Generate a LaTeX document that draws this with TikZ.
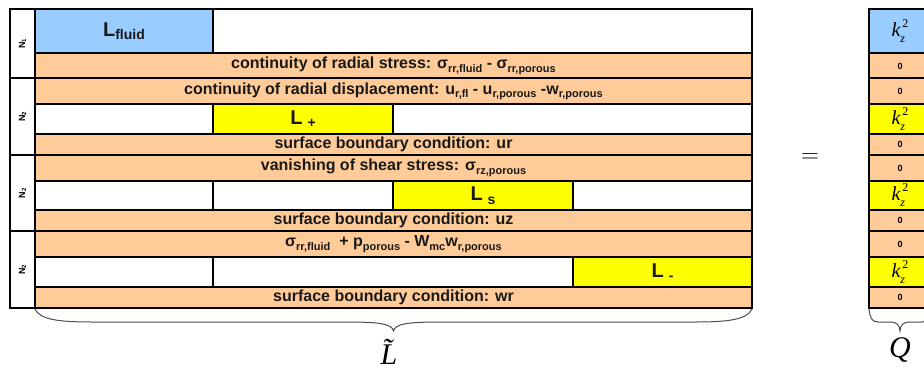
\documentclass[tikz,border=0pt]{standalone}
\usepackage{fontspec}
\setmainfont{Liberation Sans}
\newfontfamily\serifit{Liberation Serif}
\definecolor{cblue}{RGB}{153,204,255}
\definecolor{corange}{RGB}{255,204,153}
\definecolor{cyellow}{RGB}{255,255,0}
\newcommand\sbx[1]{\raisebox{-0.22em}{\fontsize{11}{11}\selectfont #1}}
\newcommand\Lsb[2]{L\hspace{#1}\raisebox{-3.5pt}{\fontsize{14}{14}\selectfont #2}}
\newcommand\kzz{{\fontsize{20}{20}\selectfont\serifit\itshape k\makebox[0pt][l]{\raisebox{-0.3em}{\fontsize{12}{12}\selectfont z}}\raisebox{0.45em}{\fontsize{12}{12}\selectfont\upshape\hspace{2pt}2}}}
\begin{document}
\begin{tikzpicture}[x=1pt,y=-1pt,
  grid/.style={draw=black,line width=1.6pt},
  outer/.style={draw=black,line width=2.6pt},
  rowtxt/.style={font=\fontsize{16}{16}\selectfont\bfseries, inner sep=0pt, text=black!90},
  ltxt/.style={font=\fontsize{20}{20}\selectfont\bfseries, inner sep=0pt, text=black!90},
  ntxt/.style={font=\fontsize{9}{9}\selectfont\bfseries, inner sep=0pt, rotate=90},
  ztxt/.style={font=\fontsize{9}{9}\selectfont\bfseries, inner sep=0pt},
  bracepath/.style={draw=black!70, line width=1pt},
  bigsym/.style={inner sep=0pt}
]
\useasboundingbox (0,0) rectangle (924,370);
\begin{scope}
\clip (0,0) rectangle (924,370);
% ---------- fills, main matrix ----------
\fill[white] (35,9) rectangle (752,53);
\fill[cblue] (35,9) rectangle (213,53);
\fill[corange] (35,53) rectangle (752,104);
\fill[white] (35,104) rectangle (752,134);
\fill[cyellow] (213,104) rectangle (393,134);
\fill[corange] (35,134) rectangle (752,181);
\fill[white] (35,181) rectangle (752,210);
\fill[cyellow] (393,181) rectangle (573,210);
\fill[corange] (35,210) rectangle (752,257);
\fill[white] (35,257) rectangle (752,287);
\fill[cyellow] (573,257) rectangle (752,287);
\fill[corange] (35,287) rectangle (752,308);
% ---------- grid lines, main matrix ----------
\foreach \yy in {53,104,134,181,210,257,287} \draw[grid] (35,\yy) -- (752,\yy);
\foreach \yy in {78,155,231} \draw[grid] (10,\yy) -- (752,\yy);
\draw[grid] (35,9) -- (35,308);
\draw[grid] (213,9) -- (213,53);
\draw[grid] (213,104) -- (213,134);
\draw[grid] (393,104) -- (393,134);
\draw[grid] (213,181) -- (213,210);
\draw[grid] (393,181) -- (393,210);
\draw[grid] (573,181) -- (573,210);
\draw[grid] (213,257) -- (213,287);
\draw[grid] (573,257) -- (573,287);
\draw[outer] (10,9) rectangle (752,308);
% ---------- Q column ----------
\fill[cblue] (869,9) rectangle (931,53);
\fill[corange] (869,53) rectangle (931,104);
\fill[cyellow] (869,104) rectangle (931,134);
\fill[corange] (869,134) rectangle (931,181);
\fill[cyellow] (869,181) rectangle (931,210);
\fill[corange] (869,210) rectangle (931,257);
\fill[cyellow] (869,257) rectangle (931,287);
\fill[corange] (869,287) rectangle (931,308);
\foreach \yy in {53,78,104,134,155,181,210,231,257,287} \draw[grid] (869,\yy) -- (931,\yy);
\draw[outer] (869,9) rectangle (931,308);
% ---------- labels N ----------
\node[ntxt] (n1) at (22.5,43.5) {N\textsubscript{1}};
\node[ntxt] (n2) at (22.5,116.5) {N\textsubscript{2}};
\node[ntxt] (n3) at (22.5,193) {N\textsubscript{2}};
\node[ntxt] (n4) at (22.5,269.5) {N\textsubscript{2}};
% ---------- L blocks ----------
\node[ltxt] (lfluid) at (124,31) {\Lsb{0pt}{fluid}};
\node[ltxt] (lplus) at (303,119) {\Lsb{5pt}{+}};
\node[ltxt] (ls) at (483,195.5) {\Lsb{5pt}{s}};
\node[ltxt] (lminus) at (662.5,272) {\Lsb{5pt}{-}};
% ---------- row texts ----------
\node[rowtxt] (r2) at (393.5,66) {continuity of radial stress: σ\sbx{rr,fluid} - σ\sbx{rr,porous}};
\node[rowtxt] (r3) at (393.5,91.5) {continuity of radial displacement: u\sbx{r,fl} - u\sbx{r,porous} -w\sbx{r,porous}};
\node[rowtxt] (r5) at (393.5,144.5) {surface boundary condition: ur};
\node[rowtxt] (r6) at (393.5,168) {vanishing of shear stress: σ\sbx{rz,porous}};
\node[rowtxt] (r8) at (393.5,220.5) {surface boundary condition: uz};
\node[rowtxt] (r9) at (393.5,244) {σ\sbx{rr,fluid}\ \ + p\sbx{porous} - W\sbx{mc}w\sbx{r,porous}};
\node[rowtxt] (r11) at (393.5,297.5) {surface boundary condition: wr};
% ---------- Q texts ----------
\node[inner sep=0pt] (q1) at (900,31) {\kzz};
\node[ztxt] (q2) at (900,66) {0};
\node[ztxt] (q3) at (900,91.5) {0};
\node[inner sep=0pt] (q4) at (900,119) {\kzz};
\node[ztxt] (q5) at (900,144.5) {0};
\node[ztxt] (q6) at (900,168) {0};
\node[inner sep=0pt] (q7) at (900,195.5) {\kzz};
\node[ztxt] (q8) at (900,220.5) {0};
\node[ztxt] (q9) at (900,244) {0};
\node[inner sep=0pt] (q10) at (900,272) {\kzz};
\node[ztxt] (q11) at (900,297.5) {0};
% ---------- equals ----------
\node[bigsym] (eq) at (810,158) {\fontsize{36}{36}\selectfont$=$};
% ---------- braces ----------
\coordinate (bl0) at (35,309);
\coordinate (bl1) at (752,309);
\draw[bracepath] (bl0) .. controls (40,320) and (60,322) .. (93,322) -- (347,322)
  .. controls (380,322) and (392,324) .. (393.5,331)
  .. controls (395,324) and (407,322) .. (440,322) -- (694,322)
  .. controls (727,322) and (747,320) .. (bl1);
\coordinate (bq0) at (869,309);
\coordinate (bq1) at (931,309);
\draw[bracepath] (bq0) .. controls (870,318) and (872,322) .. (878,322) -- (890,322)
  .. controls (897,322) and (899.5,325) .. (900,331)
  .. controls (900.5,325) and (903,322) .. (910,322) -- (922,322)
  .. controls (928,322) and (930,318) .. (bq1);
\node[bigsym] (ltil) at (389,352) {\fontsize{30}{30}\selectfont\serifit\itshape \~{L}};
\node[bigsym] (qlab) at (900,350) {\fontsize{30}{30}\selectfont\serifit\itshape Q};
\end{scope}
\end{tikzpicture}
\end{document}
